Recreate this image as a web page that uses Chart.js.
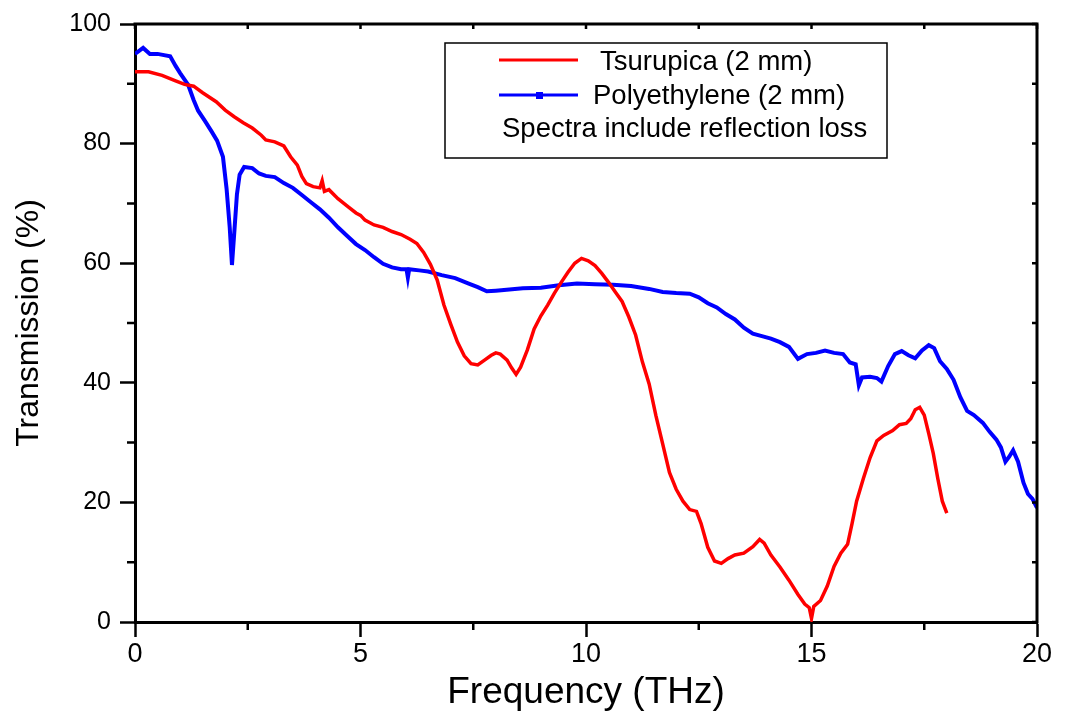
<!DOCTYPE html>
<html>
<head>
<meta charset="utf-8">
<script src="https://cdn.jsdelivr.net/npm/chart.js@4.4.1/dist/chart.umd.min.js"></script>
<style>
  html, body { margin: 0; padding: 0; background: #ffffff; }
  #wrap { position: relative; width: 1070px; height: 719px; }
</style>
</head>
<body>
<div id="wrap"><canvas id="c"></canvas></div>
<script>
// ---- Data ----
const seriesNames = ['Tsurupica (2 mm)', 'Polyethylene (2 mm)'];
const noteText = 'Spectra include reflection loss';

const freqTsurupica = [0.0,0.3,0.6,0.9,1.1,1.3,1.5,1.8,2.0,2.2,2.4,2.6,2.8,2.9,3.1,3.3,3.45,3.6,3.7,3.8,3.95,4.1,4.15,4.2,4.3,4.5,4.7,4.9,5.0,5.1,5.3,5.5,5.7,5.9,6.1,6.25,6.4,6.55,6.7,6.85,7.0,7.15,7.3,7.45,7.6,7.75,7.9,8.0,8.1,8.25,8.35,8.45,8.55,8.7,8.85,9.0,9.15,9.3,9.45,9.6,9.75,9.9,10.05,10.2,10.35,10.5,10.65,10.8,10.95,11.1,11.25,11.4,11.55,11.7,11.85,12.0,12.15,12.3,12.45,12.55,12.7,12.85,13.0,13.15,13.3,13.5,13.7,13.85,13.95,14.1,14.3,14.5,14.7,14.85,14.95,15.0,15.05,15.2,15.35,15.5,15.65,15.8,15.9,16.0,16.15,16.3,16.45,16.6,16.8,16.95,17.1,17.2,17.3,17.4,17.5,17.6,17.7,17.8,17.9,18.0];
const transTsurupica = [92.0,92.0,91.4,90.5,89.9,89.6,88.5,87.0,85.6,84.5,83.5,82.6,81.4,80.6,80.3,79.6,77.8,76.4,74.5,73.3,72.8,72.6,73.8,72.0,72.3,70.8,69.6,68.4,68.0,67.2,66.4,66.0,65.3,64.8,64.0,63.3,61.8,59.8,57.2,53.0,49.8,46.8,44.5,43.2,43.0,43.8,44.6,45.0,44.8,43.8,42.5,41.4,42.6,45.5,49.0,51.2,53.0,55.0,56.8,58.5,60.0,60.8,60.4,59.6,58.3,56.8,55.2,53.6,51.0,48.0,43.5,39.8,34.5,29.8,25.0,22.2,20.2,18.8,18.5,16.5,12.5,10.2,9.8,10.6,11.2,11.5,12.6,13.8,13.2,11.2,9.2,7.0,4.6,3.0,2.4,0.6,2.6,3.6,6.0,9.3,11.5,13.0,16.5,20.2,24.0,27.5,30.3,31.2,32.0,33.0,33.2,34.0,35.5,35.9,34.6,31.5,28.2,24.0,20.2,18.2];

const freqPolyethylene = [0.0,0.18,0.33,0.5,0.78,0.9,1.0,1.18,1.3,1.4,1.55,1.7,1.82,1.95,2.03,2.1,2.15,2.2,2.26,2.32,2.42,2.6,2.75,2.9,3.1,3.3,3.5,3.7,3.9,4.1,4.3,4.5,4.7,4.9,5.1,5.3,5.5,5.7,5.9,6.02,6.05,6.08,6.3,6.5,6.8,7.1,7.4,7.6,7.8,8.0,8.3,8.6,9.0,9.4,9.8,10.2,10.6,11.0,11.4,11.7,12.0,12.3,12.5,12.7,12.9,13.1,13.3,13.5,13.7,13.9,14.1,14.3,14.5,14.7,14.9,15.1,15.3,15.5,15.7,15.85,15.98,16.05,16.12,16.3,16.45,16.55,16.7,16.85,17.0,17.15,17.3,17.45,17.6,17.72,17.85,18.0,18.15,18.3,18.45,18.6,18.8,18.95,19.1,19.2,19.3,19.38,19.47,19.58,19.7,19.8,19.9,20.0];
const transPolyethylene = [95.0,96.0,95.0,95.0,94.6,93.0,91.8,89.8,87.3,85.5,83.8,82.0,80.5,77.8,72.5,66.0,59.7,65.0,71.5,74.8,76.1,75.9,75.0,74.6,74.4,73.4,72.6,71.4,70.2,69.0,67.6,66.0,64.6,63.2,62.2,61.0,59.9,59.3,59.0,59.0,57.6,59.0,58.8,58.6,58.0,57.5,56.6,56.0,55.3,55.4,55.6,55.8,55.9,56.3,56.6,56.5,56.4,56.2,55.7,55.2,55.0,54.9,54.3,53.3,52.6,51.5,50.6,49.2,48.2,47.8,47.4,46.8,46.0,44.0,44.8,45.0,45.4,45.0,44.8,43.4,43.1,39.6,40.9,41.0,40.8,40.2,42.8,44.8,45.3,44.6,44.1,45.4,46.3,45.8,43.6,42.3,40.5,37.6,35.3,34.6,33.3,31.8,30.5,29.2,26.8,27.6,28.7,26.8,23.3,21.4,20.6,19.1];

const xTickValues = [0, 5, 10, 15, 20];
const xMinorTicks = [2.5, 7.5, 12.5, 17.5];
const yTickValues = [0, 20, 40, 60, 80, 100];
const yMinorTicks = [10, 30, 50, 70, 90];
const xTitle = 'Frequency (THz)';
const yTitle = 'Transmission (%)';
// ---------------------------------------

const colors = ['#ff0000', '#0000ff'];
const FONT = 'Arial, "Liberation Sans", Helvetica, sans-serif';

function pts(xs, ys) { return xs.map((x, i) => ({ x: x, y: ys[i] })); }

const framePlugin = {
  id: 'frame',
  afterDraw(chart) {
    const ctx = chart.ctx;
    const xs = chart.scales.x, ys = chart.scales.y;
    const a = chart.chartArea;
    ctx.save();
    ctx.strokeStyle = '#000';
    ctx.lineWidth = 3;
    ctx.lineCap = 'square';
    ctx.beginPath();
    ctx.moveTo(a.left, a.top); ctx.lineTo(a.right, a.top); ctx.lineTo(a.right, a.bottom);
    ctx.stroke();
    ctx.lineCap = 'butt';
    ctx.lineWidth = 2.5;
    ctx.beginPath();
    xMinorTicks.forEach(v => { const p = xs.getPixelForValue(v); ctx.moveTo(p, a.bottom); ctx.lineTo(p, a.bottom + 8); });
    yMinorTicks.forEach(v => { const p = ys.getPixelForValue(v); ctx.moveTo(a.left, p); ctx.lineTo(a.left - 8, p); });
    xTickValues.concat(xMinorTicks).forEach(v => { const p = xs.getPixelForValue(v); ctx.moveTo(p, a.top); ctx.lineTo(p, a.top + 5); });
    yTickValues.concat(yMinorTicks).forEach(v => { const p = ys.getPixelForValue(v); ctx.moveTo(a.right, p); ctx.lineTo(a.right - 5, p); });
    ctx.stroke();

    // legend box
    ctx.lineWidth = 1.5;
    ctx.strokeRect(445, 43, 442, 115);
    ctx.lineWidth = 3;
    ctx.strokeStyle = colors[0];
    ctx.beginPath(); ctx.moveTo(499, 60); ctx.lineTo(578, 60); ctx.stroke();
    ctx.strokeStyle = colors[1];
    ctx.beginPath(); ctx.moveTo(499, 95); ctx.lineTo(578, 95); ctx.stroke();
    ctx.fillStyle = colors[1];
    ctx.fillRect(536, 92, 7, 7);
    ctx.fillStyle = '#000';
    ctx.font = '27.5px ' + FONT;
    ctx.textBaseline = 'middle';
    ctx.textAlign = 'left';
    ctx.fillText(seriesNames[0], 600, 62);
    ctx.fillText(seriesNames[1], 593, 96);
    ctx.fillText(noteText, 502, 129);
    ctx.restore();
  }
};

new Chart(document.getElementById('c'), {
  type: 'line',
  data: {
    datasets: [
      { label: seriesNames[0], data: pts(freqTsurupica, transTsurupica), borderColor: colors[0], backgroundColor: colors[0], borderWidth: 3.5, pointRadius: 0, tension: 0 },
      { label: seriesNames[1], data: pts(freqPolyethylene, transPolyethylene), borderColor: colors[1], backgroundColor: colors[1], borderWidth: 4, pointRadius: 0, tension: 0 }
    ]
  },
  options: {
    responsive: true,
    maintainAspectRatio: false,
    animation: false,
    layout: { padding: { top: 21, right: 33, left: 0, bottom: 0 } },
    plugins: { legend: { display: false }, tooltip: { enabled: false } },
    scales: {
      x: {
        type: 'linear', min: 0, max: 20,
        afterFit(s) { s.height = 97; },
        afterBuildTicks(s) { s.ticks = xTickValues.map(v => ({ value: v })); },
        ticks: { color: '#000', font: { family: FONT, size: 27 }, padding: 1, maxRotation: 0 },
        grid: { drawOnChartArea: false, drawTicks: true, tickLength: 15, tickWidth: 2.5, tickColor: '#000' },
        border: { display: true, color: '#000', width: 3 },
        title: { display: true, text: xTitle, color: '#000', font: { family: FONT, size: 37 }, padding: { top: 0, bottom: 4 } }
      },
      y: {
        type: 'linear', min: 0, max: 100,
        afterFit(s) { s.width = 135; },
        afterBuildTicks(s) { s.ticks = yTickValues.map(v => ({ value: v })); },
        ticks: { color: '#000', font: { family: FONT, size: 25 }, padding: 9 },
        grid: { drawOnChartArea: false, drawTicks: true, tickLength: 15, tickWidth: 2.5, tickColor: '#000' },
        border: { display: true, color: '#000', width: 3 },
        title: { display: true, text: yTitle, color: '#000', font: { family: FONT, size: 32 }, padding: { top: 10, bottom: 0 } }
      }
    }
  },
  plugins: [framePlugin]
});
</script>
</body>
</html>
